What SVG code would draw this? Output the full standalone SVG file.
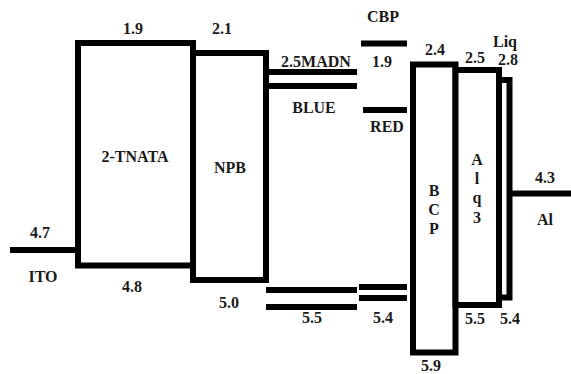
<svg xmlns="http://www.w3.org/2000/svg" width="571" height="374" viewBox="0 0 571 374">
<style>
.box{fill:#fff;stroke:#000;stroke-width:6}
.lv{stroke:#000;stroke-width:6;fill:none}
text{font-family:"Liberation Serif","Times New Roman",serif;font-weight:bold;font-size:16px;fill:#1a1a1a;text-anchor:middle}
</style>
<rect width="571" height="374" fill="#fff"/>
<g id="ITO">
<line class="lv" x1="10" y1="250" x2="78" y2="250"/>
<text x="40" y="238">4.7</text>
<text x="43" y="282">ITO</text>
</g>
<g id="TNATA">
<rect class="box" x="78" y="43" width="115" height="222.5"/>
<text x="135" y="162">2-TNATA</text>
<text x="133" y="34">1.9</text>
<text x="132" y="292">4.8</text>
</g>
<g id="NPB">
<rect class="box" x="193" y="53" width="73" height="227"/>
<text x="230" y="173">NPB</text>
<text x="222" y="34">2.1</text>
<text x="229" y="308">5.0</text>
</g>
<g id="MADN">
<line class="lv" x1="266" y1="72" x2="357" y2="72"/>
<line class="lv" x1="266" y1="86" x2="357" y2="86"/>
<line class="lv" x1="266" y1="290" x2="357" y2="290"/>
<line class="lv" x1="266" y1="307" x2="357" y2="307"/>
<text x="316" y="67">2.5MADN</text>
<text x="314" y="113">BLUE</text>
<text x="312" y="323">5.5</text>
</g>
<g id="CBP">
<line class="lv" x1="361" y1="43.5" x2="407" y2="43.5"/>
<line class="lv" x1="363" y1="110" x2="407" y2="110"/>
<line class="lv" x1="359" y1="287" x2="407" y2="287"/>
<line class="lv" x1="359" y1="298" x2="407" y2="298"/>
<text x="383" y="22">CBP</text>
<text x="382" y="67">1.9</text>
<text x="387" y="132">RED</text>
<text x="383" y="323">5.4</text>
</g>
<g id="BCP">
<rect class="box" x="413" y="64.5" width="42.5" height="288"/>
<text x="434" y="196">B</text>
<text x="434" y="215">C</text>
<text x="434" y="234">P</text>
<text x="435" y="55">2.4</text>
<text x="431" y="371">5.9</text>
</g>
<g id="Alq3">
<rect class="box" x="455.5" y="70" width="43.5" height="235"/>
<text x="477" y="165">A</text>
<text x="477" y="184">l</text>
<text x="477" y="203">q</text>
<text x="477" y="223">3</text>
<text x="475" y="63">2.5</text>
<text x="475" y="324">5.5</text>
</g>
<g id="Liq">
<rect class="box" x="499" y="80" width="10.5" height="217.5"/>
<text x="505" y="47">Liq</text>
<text x="508" y="65">2.8</text>
<text x="510" y="324">5.4</text>
</g>
<g id="Al">
<line class="lv" x1="510" y1="193.5" x2="571" y2="193.5"/>
<text x="545" y="183">4.3</text>
<text x="545" y="225">Al</text>
</g>
<g id="connectors"></g>
</svg>
